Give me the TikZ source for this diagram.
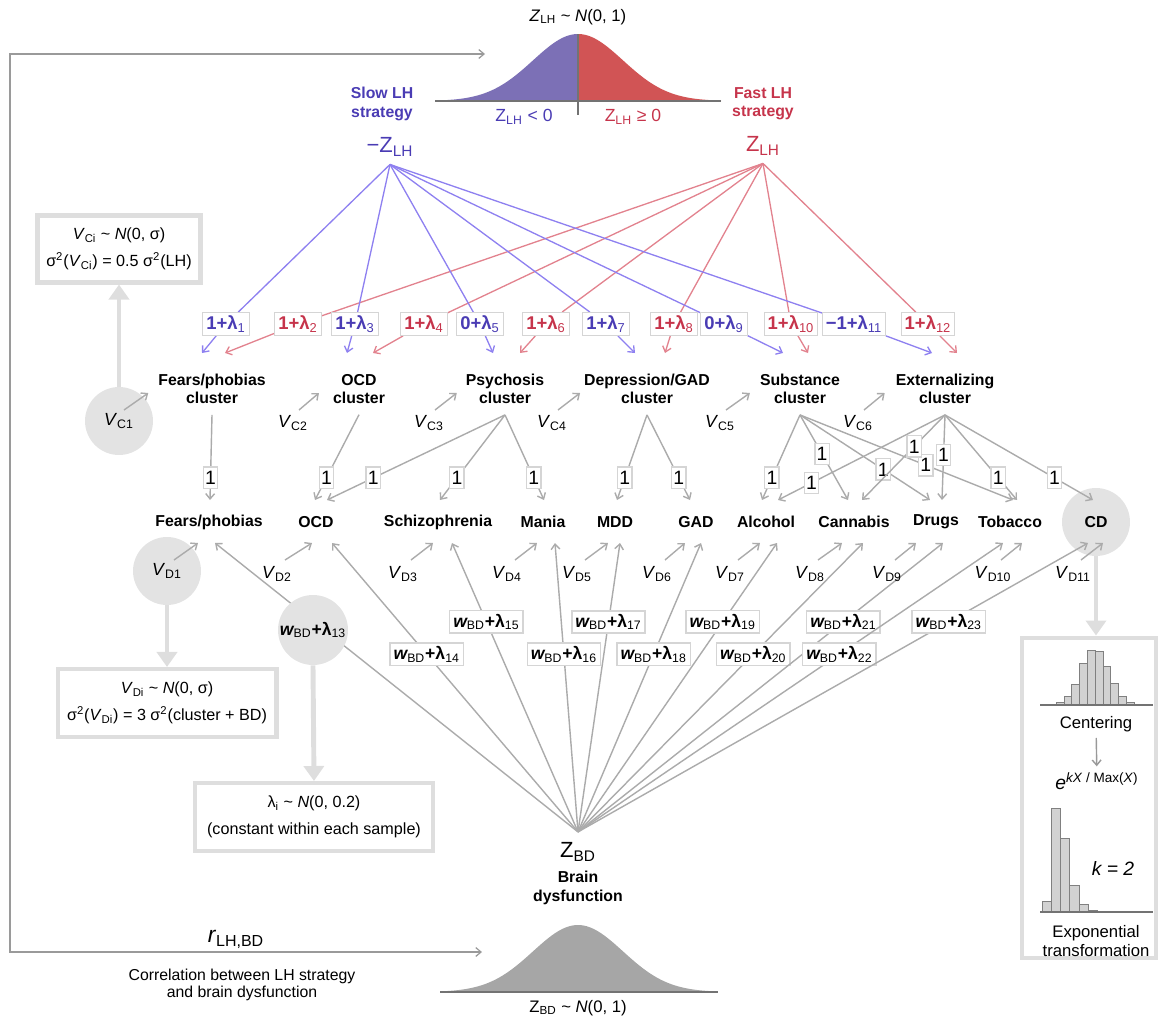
\documentclass[tikz,border=0pt]{standalone}
\usepackage{fontspec}
\setmainfont{Liberation Sans}
\usepackage{tikz}
\usetikzlibrary{arrows.meta}
\usetikzlibrary{calc}
\pgfdeclarelayer{bg}
\pgfsetlayers{bg,main}
\definecolor{slowtxt}{HTML}{4A3CB4}
\definecolor{slowln}{HTML}{8E80F0}
\definecolor{slowfill}{HTML}{7C70B6}
\definecolor{fasttxt}{HTML}{C6344B}
\definecolor{fastln}{HTML}{E2828E}
\definecolor{fastfill}{HTML}{D15455}
\definecolor{edgegray}{HTML}{ABABAB}
\definecolor{framegray}{HTML}{9A9A9A}
\definecolor{boxgray}{HTML}{DEDEDE}
\definecolor{errgray}{HTML}{E3E3E3}
\definecolor{bdgray}{HTML}{A6A6A6}
\definecolor{bargray}{HTML}{D2D2D2}
\newcommand{\sbs}[1]{\textsubscript{\mdseries\upshape #1}}
\tikzset{
  lab/.style = {font=\fontsize{9}{10.5}\selectfont\bfseries, align=center, inner sep=1pt},
  clab/.style = {lab, inner ysep=6pt},
  zlab/.style = {font=\fontsize{12.5}{14}\selectfont, inner sep=4.5pt},
  lamb/.style = {draw=edgegray!50, fill=white, inner xsep=2pt, inner ysep=1.8pt, font=\fontsize{10.5}{12}\selectfont\bfseries},
  slowlam/.style = {lamb, text=slowtxt},
  fastlam/.style = {lamb, text=fasttxt},
  wlab/.style = {lamb, font=\fontsize{10}{12}\selectfont\bfseries},
  one/.style = {draw=edgegray!50, fill=white, inner xsep=1pt, inner ysep=2.3pt, font=\fontsize{11}{12}\selectfont},
  vlab/.style = {font=\fontsize{10}{12}\selectfont, inner sep=1pt},
  slowedge/.style = {draw=slowln, line width=0.75pt, -{Straight Barb[length=3pt, width=5pt]}},
  fastedge/.style = {draw=fastln, line width=0.75pt, -{Straight Barb[length=3pt, width=5pt]}},
  gedge/.style = {draw=edgegray, line width=0.8pt, -{Straight Barb[length=3pt, width=5pt]}},
  varr/.style = {draw=edgegray, line width=0.8pt, -{Straight Barb[length=3pt, width=5pt]}},
  frame/.style = {draw=framegray, line width=0.7pt, {Straight Barb[length=3pt, width=5pt]}-{Straight Barb[length=3pt, width=5pt]}},
  axisln/.style = {draw=black!55, line width=0.7pt},
  errc/.style = {circle, fill=errgray, minimum size=1.36cm, inner sep=0pt, font=\fontsize{10}{12}\selectfont},
  pbox/.style = {draw=boxgray, line width=2.3pt, fill=white, align=center, font=\fontsize{9.2}{15.5}\selectfont},
  bigarr/.style = {draw=boxgray, line width=2.8pt, -{Triangle[width=0.4cm, length=0.3cm]}},
  hbar/.style = {fill=bargray, draw=black!50, line width=0.4pt}
}

\begin{document}
\begin{tikzpicture}[x=0.02cm, y=-0.02cm]
  \useasboundingbox (0, 0) rectangle (1160, 1021);

  \fill [slowfill] (435, 101) -- plot [domain=-143:0, samples=60] ({578+\x}, {101-67*exp(-0.5*(\x/45)*(\x/45))}) -- (578, 101) -- cycle;
  \fill [fastfill] (578, 101) -- plot [domain=0:143, samples=60] ({578+\x}, {101-67*exp(-0.5*(\x/45)*(\x/45))}) -- (721, 101) -- cycle;
  \draw [axisln] (435, 101) -- (721, 101);
  \draw [axisln] (578, 34) -- (578, 115);

  \fill [bdgray] (440, 992) -- plot [domain=-138:138, samples=80] ({578+\x}, {992-67*exp(-0.5*(\x/45)*(\x/45))}) -- (716, 992) -- cycle;
  \draw [axisln] (440, 992) -- (718, 992);

  \node [font=\fontsize{9.5}{11}\selectfont] (lhdist) at (578, 17) {\textit{Z}\sbs{LH} \textasciitilde{} \textit{N}(0, 1)};
  \node [lab, text=slowtxt] (slow) at (382, 104) {Slow LH\\strategy};
  \node [lab, text=fasttxt] (fast) at (763, 104) {Fast LH\\strategy};
  \node [font=\fontsize{10}{12}\selectfont, text=slowtxt] (zneg) at (524, 117) {Z\sbs{LH} < 0};
  \node [font=\fontsize{10}{12}\selectfont, text=fasttxt] (zpos) at (633, 117) {Z\sbs{LH} ≥ 0};
  \node [zlab, text=slowtxt] (mZ) at (390, 147) {−Z\sbs{LH}};
  \node [zlab, text=fasttxt] (pZ) at (763, 146) {Z\sbs{LH}};

  \node [slowlam] (l1) at (226, 324) {1+λ\sbs{1}};
  \node [fastlam] (l2) at (298, 324) {1+λ\sbs{2}};
  \node [slowlam] (l3) at (355, 324) {1+λ\sbs{3}};
  \node [fastlam] (l4) at (424, 324) {1+λ\sbs{4}};
  \node [slowlam] (l5) at (480, 324) {0+λ\sbs{5}};
  \node [fastlam] (l6) at (546, 324) {1+λ\sbs{6}};
  \node [slowlam] (l7) at (606, 324) {1+λ\sbs{7}};
  \node [fastlam] (l8) at (674, 324) {1+λ\sbs{8}};
  \node [slowlam] (l9) at (724, 324) {0+λ\sbs{9}};
  \node [fastlam] (l10) at (791, 324) {1+λ\sbs{10}};
  \node [slowlam] (l11) at (854, 324) {−1+λ\sbs{11}};
  \node [fastlam] (l12) at (928, 324) {1+λ\sbs{12}};

  \node [clab] (cfp) at (212, 389) {Fears/phobias\\cluster};
  \node [clab] (cocd) at (359, 389) {OCD\\cluster};
  \node [clab] (cpsy) at (505, 389) {Psychosis\\cluster};
  \node [clab] (cdep) at (647, 389) {Depression/GAD\\cluster};
  \node [clab] (csub) at (800, 389) {Substance\\cluster};
  \node [clab] (cext) at (945, 389) {Externalizing\\cluster};

  \node [lab] (fp) at (209, 522) {Fears/phobias};
  \node [lab] (ocd) at (316, 522) {OCD};
  \node [lab] (scz) at (438, 522) {Schizophrenia};
  \node [lab] (man) at (543, 522) {Mania};
  \node [lab] (mdd) at (615, 522) {MDD};
  \node [lab] (gad) at (696, 522) {GAD};
  \node [lab] (alc) at (766, 522) {Alcohol};
  \node [lab] (can) at (854, 522) {Cannabis};
  \node [lab] (drg) at (936, 522) {Drugs};
  \node [lab] (tob) at (1010, 522) {Tobacco};
  \node [errc, font=\fontsize{9}{10.5}\selectfont\bfseries] (cd) at (1096, 522) {CD};

  \node [pbox, minimum width=3.26cm, minimum height=1.34cm] (bxc) at (119, 249) {\textit{V}\sbs{Ci} \textasciitilde{} \textit{N}(0, σ)\\σ\textsuperscript{2}(\textit{V}\sbs{Ci}) = 0.5 σ\textsuperscript{2}(LH)};
  \node [errc] (vc1) at (119, 421) {\textit{V}\sbs{C1}};
  \node [errc] (vd1) at (167, 571) {\textit{V}\sbs{D1}};
  \node [pbox, minimum width=4.38cm, minimum height=1.36cm] (bxd) at (167, 703) {\textit{V}\sbs{Di} \textasciitilde{} \textit{N}(0, σ)\\σ\textsuperscript{2}(\textit{V}\sbs{Di}) = 3 σ\textsuperscript{2}(cluster + BD)};
  \node [errc, minimum size=1.4cm, font=\fontsize{10}{12}\selectfont\bfseries] (w13) at (313, 630) {{\itshape w}\sbs{BD}+λ\sbs{13}};
  \node [pbox, minimum width=4.76cm, minimum height=1.36cm] (bxl) at (314, 817) {λ\sbs{i} \textasciitilde{} \textit{N}(0, 0.2)\\(constant within each sample)};
  \node [pbox, minimum width=2.68cm, minimum height=6.42cm] (tbox) at (1089, 798) {};

  \node [vlab] (vc2) at (293, 423) {\textit{V}\sbs{C2}};
  \node [vlab] (vc3) at (429, 423) {\textit{V}\sbs{C3}};
  \node [vlab] (vc4) at (552, 423) {\textit{V}\sbs{C4}};
  \node [vlab] (vc5) at (720, 423) {\textit{V}\sbs{C5}};
  \node [vlab] (vc6) at (858, 423) {\textit{V}\sbs{C6}};

  \node [vlab] (vd2) at (277, 574) {\textit{V}\sbs{D2}};
  \node [vlab] (vd3) at (403, 574) {\textit{V}\sbs{D3}};
  \node [vlab] (vd4) at (507, 574) {\textit{V}\sbs{D4}};
  \node [vlab] (vd5) at (577, 574) {\textit{V}\sbs{D5}};
  \node [vlab] (vd6) at (657, 574) {\textit{V}\sbs{D6}};
  \node [vlab] (vd7) at (730, 574) {\textit{V}\sbs{D7}};
  \node [vlab] (vd8) at (810, 574) {\textit{V}\sbs{D8}};
  \node [vlab] (vd9) at (887, 574) {\textit{V}\sbs{D9}};
  \node [vlab] (vd10) at (993, 574) {\textit{V}\sbs{D10}};
  \node [vlab] (vd11) at (1073, 574) {\textit{V}\sbs{D11}};

  \node [zlab, inner sep=6pt] (zbd) at (578, 852) {Z\sbs{BD}};
  \node [lab] (brain) at (578, 888) {Brain\\dysfunction};
  \node [font=\fontsize{9.5}{11}\selectfont] (bddist) at (578, 1008) {Z\sbs{BD} \textasciitilde{} \textit{N}(0, 1)};
  \node [font=\fontsize{13}{14}\selectfont] (rlab) at (236, 939) {\textit{r}\sbs{LH,BD}};
  \node [font=\fontsize{9}{9.8}\selectfont, align=center] (corr) at (242, 985) {Correlation between LH strategy\\and brain dysfunction};

  \coordinate (lhin) at (485, 54);
  \coordinate (bdin) at (482, 952);
  \draw [frame] (lhin) -- ++(-475, 0) |- (bdin);

  \begin{pgfonlayer}{bg}
    \draw [slowedge] (mZ.south) -- (l1) -- ($(cfp)+(-10, -36)$);
    \draw [fastedge] (pZ.south) -- (l2) -- ($(cfp)+(13, -36)$);
    \draw [slowedge] (mZ.south) -- (l3) -- ($(cocd)+(-12, -36)$);
    \draw [fastedge] (pZ.south) -- (l4) -- ($(cocd)+(14, -36)$);
    \draw [slowedge] (mZ.south) -- (l5) -- ($(cpsy)+(-12, -36)$);
    \draw [fastedge] (pZ.south) -- (l6) -- ($(cpsy)+(15, -36)$);
    \draw [slowedge] (mZ.south) -- (l7) -- ($(cdep)+(-12, -36)$);
    \draw [fastedge] (pZ.south) -- (l8) -- ($(cdep)+(18, -36)$);
    \draw [slowedge] (mZ.south) -- (l9) -- ($(csub)+(-17, -36)$);
    \draw [fastedge] (pZ.south) -- (l10) -- ($(csub)+(8, -36)$);
    \draw [slowedge] (mZ.south) -- (l11) -- ($(cext)+(-13, -36)$);
    \draw [fastedge] (pZ.south) -- (l12) -- ($(cext)+(12, -36)$);

    \draw [gedge] (cfp.south) -- node [one, pos=0.74] {1} ($(fp)+(1, -22)$);
    \draw [gedge] (cocd.south) -- node [one, pos=0.74] {1} ($(ocd)+(-1, -22)$);
    \draw [gedge] (cpsy.south) -- node [one, pos=0.74] {1} ($(ocd)+(11, -22)$);
    \draw [gedge] (cpsy.south) -- node [one, pos=0.74] {1} ($(scz)+(2, -22)$);
    \draw [gedge] (cpsy.south) -- node [one, pos=0.74] {1} ($(man)+(1, -22)$);
    \draw [gedge] (cdep.south) -- node [one, pos=0.74] {1} ($(mdd)+(2, -22)$);
    \draw [gedge] (cdep.south) -- node [one, pos=0.74] {1} ($(gad)+(-6, -22)$);
    \draw [gedge] (csub.south) -- node [one, pos=0.74] {1} ($(alc)+(-4, -22)$);
    \draw [gedge] (csub.south) -- node [one, pos=0.46] {1} ($(can)+(-6, -22)$);
    \draw [gedge] (csub.south) -- node [one, pos=0.64] {1} ($(drg)+(-6, -22)$);
    \draw [gedge] (csub.south) -- node [one, pos=0.59] {1} ($(tob)+(3, -22)$);
    \draw [gedge] (cext.south) -- node [one, pos=0.8] {1} ($(alc)+(12, -22)$);
    \draw [gedge] (cext.south) -- node [one, pos=0.37] {1} ($(can)+(8, -22)$);
    \draw [gedge] (cext.south) -- node [one, pos=0.47] {1} ($(drg)+(6, -22)$);
    \draw [gedge] (cext.south) -- node [one, pos=0.74] {1} ($(tob)+(7, -22)$);

    \draw [gedge] (zbd.north) -- ($(fp)+(6, 21)$);
    \draw [gedge] (zbd.north) -- node [wlab, pos=0.615] {{\itshape w}\sbs{BD}+λ\sbs{14}} ($(ocd)+(16, 21)$);
    \draw [gedge] (zbd.north) -- node [wlab, pos=0.727] {{\itshape w}\sbs{BD}+λ\sbs{15}} ($(scz)+(14, 21)$);
    \draw [gedge] (zbd.north) -- node [wlab, pos=0.615] {{\itshape w}\sbs{BD}+λ\sbs{16}} ($(man)+(12, 21)$);
    \draw [gedge] (zbd.north) -- node [wlab, pos=0.727] {{\itshape w}\sbs{BD}+λ\sbs{17}} ($(mdd)+(5, 21)$);
    \draw [gedge] (zbd.north) -- node [wlab, pos=0.615] {{\itshape w}\sbs{BD}+λ\sbs{18}} ($(gad)+(5, 21)$);
    \draw [gedge] (zbd.north) -- node [wlab, pos=0.727] {{\itshape w}\sbs{BD}+λ\sbs{19}} ($(alc)+(11, 21)$);
    \draw [gedge] (zbd.north) -- node [wlab, pos=0.615] {{\itshape w}\sbs{BD}+λ\sbs{20}} ($(can)+(9, 21)$);
    \draw [gedge] (zbd.north) -- node [wlab, pos=0.727] {{\itshape w}\sbs{BD}+λ\sbs{21}} ($(drg)+(7, 21)$);
    \draw [gedge] (zbd.north) -- node [wlab, pos=0.615] {{\itshape w}\sbs{BD}+λ\sbs{22}} ($(tob)+(-7, 21)$);
  \end{pgfonlayer}

  \draw [gedge] (zbd.north) -- node [wlab, pos=0.727] {{\itshape w}\sbs{BD}+λ\sbs{23}} ($(cd)+(-8, 21)$);
  \draw [gedge] (cext.south) -- node [one, pos=0.74] {1} ($(cd)+(-3, -22)$);

  \draw [varr] ($(vc1)+(5, -11)$) -- ($(cfp.west)+(-8, 4)$);
  \draw [varr] ($(vc2)+(6, -13)$) -- ($(cocd.west)+(-12, 4)$);
  \draw [varr] ($(vc3)+(6, -13)$) -- ($(cpsy.west)+(-7, 4)$);
  \draw [varr] ($(vc4)+(6, -13)$) -- ($(cdep.west)+(-2, 4)$);
  \draw [varr] ($(vc5)+(6, -13)$) -- ($(csub.west)+(-8, 4)$);
  \draw [varr] ($(vc6)+(6, -13)$) -- ($(cext.west)+(-9, 4)$);

  \draw [varr] ($(vd1)+(7, -11)$) -- ($(fp)+(-11, 21)$);
  \draw [varr] ($(vd2)+(8, -14)$) -- ($(ocd)+(-4, 21)$);
  \draw [varr] ($(vd3)+(8, -14)$) -- ($(scz)+(-5, 21)$);
  \draw [varr] ($(vd4)+(8, -14)$) -- ($(man)+(-6, 21)$);
  \draw [varr] ($(vd5)+(8, -14)$) -- ($(mdd)+(-7, 21)$);
  \draw [varr] ($(vd6)+(8, -14)$) -- ($(gad)+(-11, 21)$);
  \draw [varr] ($(vd7)+(8, -14)$) -- ($(alc)+(-6, 21)$);
  \draw [varr] ($(vd8)+(8, -14)$) -- ($(can)+(-12, 21)$);
  \draw [varr] ($(vd9)+(8, -14)$) -- ($(drg)+(-20, 21)$);
  \draw [varr] ($(vd10)+(8, -14)$) -- ($(tob)+(12, 21)$);
  \draw [varr] ($(vd11)+(8, -14)$) -- ($(cd)+(7, 21)$);

  \draw [bigarr] (vc1.north) -- (bxc.south);
  \draw [bigarr] (vd1.south) -- (bxd.north);
  \draw [bigarr] (w13.south) -- (bxl.north);
  \draw [bigarr] (cd.south) -- (cd.south |- tbox.north);

  \draw [hbar] (1056, 705) rectangle (1064, 702.7) (1064, 705) rectangle (1071, 696.7)
    (1071, 705) rectangle (1079, 684.3) (1079, 705) rectangle (1087, 663.7)
    (1087, 705) rectangle (1095, 650.7) (1095, 705) rectangle (1103, 651.3)
    (1103, 705) rectangle (1110, 666) (1110, 705) rectangle (1118, 683.3)
    (1118, 705) rectangle (1126, 696.7) (1126, 705) rectangle (1134, 702.7);
  \draw [axisln] (1040, 705) -- (1153, 705);
  \node [font=\fontsize{9.5}{11}\selectfont] (cent) at (1096, 724) {Centering};
  \node [font=\fontsize{11}{12}\selectfont] (expf) at (1097, 781) {\textit{e}\textsuperscript{\textit{kX} / Max(\textit{X})}};
  \draw [varr, draw=black!40] (cent) -- (expf);
  \draw [hbar] (1042, 912) rectangle (1051, 901) (1051, 912) rectangle (1060, 808)
    (1060, 912) rectangle (1069, 838) (1069, 912) rectangle (1079, 885)
    (1079, 912) rectangle (1088, 904) (1088, 912) rectangle (1097, 910)
    (1097, 912) rectangle (1107, 911);
  \draw [axisln] (1040, 912) -- (1153, 912);
  \node [font=\fontsize{11}{12}\selectfont\itshape] (kval) at (1113, 868) {k = 2};
  \node [font=\fontsize{9.5}{10.3}\selectfont, align=center] (expt) at (1096, 941) {Exponential\\transformation};
\end{tikzpicture}
\end{document}
